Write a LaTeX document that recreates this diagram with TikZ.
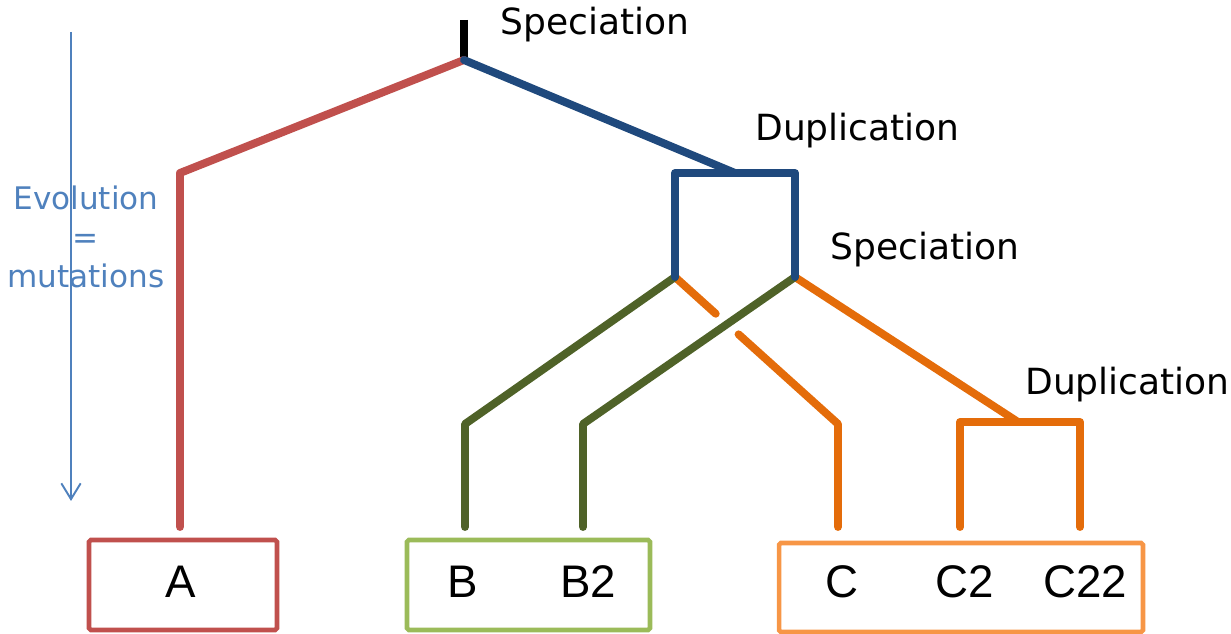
\documentclass[tikz,border=0pt]{standalone}
\usepackage{fontspec}
\setmainfont{DejaVu Sans}
\newfontfamily\leaffont{Liberation Sans}
\usetikzlibrary{arrows.meta}
\usetikzlibrary{calc}
\definecolor{geneRed}{HTML}{C0504D}
\definecolor{geneBlue}{HTML}{1F497D}
\definecolor{geneGreen}{HTML}{4F6228}
\definecolor{geneOrange}{HTML}{E46C0A}
\definecolor{boxGreen}{HTML}{9BBB59}
\definecolor{boxOrange}{HTML}{F79646}
\definecolor{timeBlue}{HTML}{4F81BD}
\tikzset{branch/.style={line width=4.5pt, line cap=round, line join=round}}
\tikzset{familyBox/.style={draw, line width=2.6pt, rounded corners=1pt, inner sep=0pt, minimum height=1.8cm}}
\tikzset{leafLabel/.style={font=\leaffont\fontsize{26}{30}\selectfont, inner sep=0pt}}
\tikzset{eventLabel/.style={font=\fontsize{20.5}{24}\selectfont, anchor=base west, inner sep=0pt}}

\begin{document}
\begin{tikzpicture}[x=0.02cm,y=-0.02cm]
\useasboundingbox (0,0) rectangle (1231,634);

% time axis
\coordinate (timeTop) at (71,32);
\coordinate (timeBottom) at (71,501);
\draw[-{Straight Barb[length=9pt,width=11pt]}, timeBlue, line width=1.1pt] (timeTop) -- (timeBottom);
\node[text=timeBlue, font=\fontsize{17.7}{22}\selectfont, align=center, inner sep=0pt] (evolution) at (86,237) {Evolution\\=\\mutations};

% gene families
\node[familyBox, draw=geneRed, minimum width=3.76cm] (boxA) at (183,585) {};
\node[familyBox, draw=boxGreen, minimum width=4.86cm] (boxB) at (528.5,585) {};
\node[familyBox, draw=boxOrange, minimum width=7.28cm, minimum height=1.78cm] (boxC) at (961,587.5) {};
\node[leafLabel] (leafA) at (181,582) {A};
\node[leafLabel] (leafB) at (463,582) {B};
\node[leafLabel] (leafBb) at (588,582) {B2};
\node[leafLabel] (leafC) at (842,582) {C};
\node[leafLabel] (leafCb) at (965,582) {C2};
\node[leafLabel] (leafCc) at (1085,582) {C22};

% tree points
\coordinate (rootTop) at (464,20);
\coordinate (root) at (464,60);
\coordinate (kneeA) at (180,173);
\coordinate (tipA) at (180,527);
\coordinate (dupTop) at (735,173);
\coordinate (dupL) at (675,173);
\coordinate (dupR) at (795,173);
\coordinate (specL) at (675,277);
\coordinate (specR) at (795,277);
\coordinate (kneeB) at (465,424);
\coordinate (tipB) at (465,527);
\coordinate (kneeBb) at (583,424);
\coordinate (tipBb) at (583,527);
\coordinate (kneeC) at (838,424);
\coordinate (tipC) at (838,527);
\coordinate (dupC) at (1018,422);
\coordinate (dupCl) at (960,422);
\coordinate (dupCr) at (1080,422);
\coordinate (tipCb) at (960,527);
\coordinate (tipCc) at (1080,527);

% branches
\draw[branch, line cap=butt] (rootTop) -- (root);
\draw[branch, geneRed] (root) -- (kneeA) -- (tipA);
\draw[branch, geneOrange] (specL) -- ($(specL)!0.25!(kneeC)$);
\draw[branch, geneOrange] ($(specL)!0.39!(kneeC)$) -- (kneeC) -- (tipC);
\draw[branch, geneOrange] (specR) -- (dupC);
\draw[branch, geneOrange] (tipCb) -- (dupCl) -- (dupCr) -- (tipCc);
\draw[branch, geneGreen] (specL) -- (kneeB) -- (tipB);
\draw[branch, geneGreen] (specR) -- (kneeBb) -- (tipBb);
\draw[branch, geneBlue] (root) -- (dupTop);
\draw[branch, geneBlue] (specL) -- (dupL) -- (dupR) -- (specR);

% events
\node[eventLabel] (specTop) at (500,35) {Speciation};
\node[eventLabel] (dupBlue) at (755,141) {Duplication};
\node[eventLabel] (specMid) at (830,260) {Speciation};
\node[eventLabel] (dupOrange) at (1025,395) {Duplication};
\end{tikzpicture}
\end{document}
